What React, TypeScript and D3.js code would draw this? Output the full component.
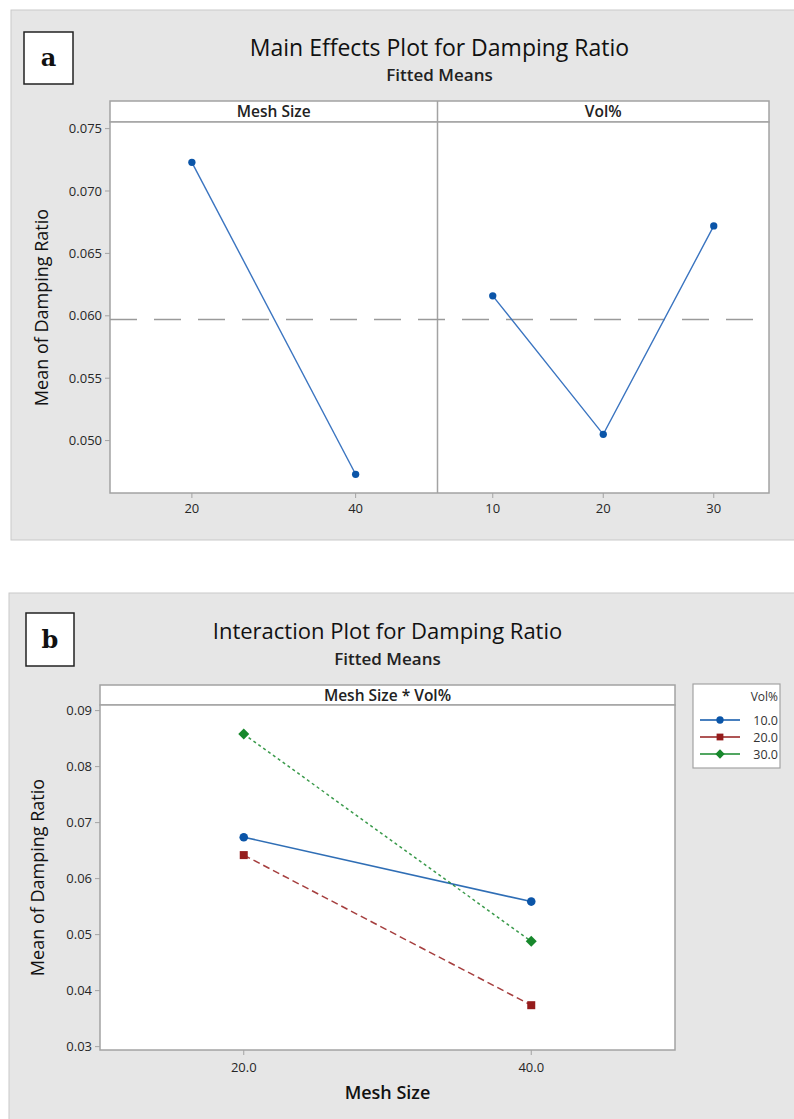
import * as d3 from "d3"

// main effects (panel a)
const meshLevels = [20, 40]
const meshMeans = [0.0723, 0.0473]
const volLevels = [10, 20, 30]
const volMeans = [0.0616, 0.0505, 0.0672]
const overallMean = 0.0597
const yTicksA = [0.05, 0.055, 0.06, 0.065, 0.07, 0.075]

// interaction (panel b)
const meshLabelsB = ["20.0", "40.0"]
const volSeries = ["10.0", "20.0", "30.0"]
const vol10 = [0.0674, 0.0559]
const vol20 = [0.0642, 0.0374]
const vol30 = [0.0858, 0.0488]
const yTicksB = [0.03, 0.04, 0.05, 0.06, 0.07, 0.08, 0.09]

const FONT = "'Open Sans', 'Noto Sans', sans-serif"
const BLUE = "#0b55a8"
const BLUE_LINE = "#3a74c0"
const RED = "#951c1c"
const GREEN = "#17882c"
const FRAME = "#a3a3a3"
const BG = "#e6e6e6"
const TICK_FS = 13
const TICK_COL = "#262626"

function LabelBox({ x, y, w, h, text }: { x: number; y: number; w: number; h: number; text: string }) {
  return (
    <g>
      <rect x={x} y={y} width={w} height={h} fill="#fff" stroke="#222" strokeWidth={1.5} />
      <text x={x + w / 2} y={y + h / 2 + 8} textAnchor="middle" fontFamily="'DejaVu Serif', serif" fontWeight="bold" fontSize={24} fill="#111">
        {text}
      </text>
    </g>
  )
}

function Marker({ kind, x, y, color, s = 1 }: { kind: string; x: number; y: number; color: string; s?: number }) {
  if (kind === "square") return <rect x={x - 4 * s} y={y - 4 * s} width={8 * s} height={8 * s} fill={color} />
  if (kind === "diamond")
    return <path d={`M${x},${y - 5.5 * s}L${x + 5.5 * s},${y}L${x},${y + 5.5 * s}L${x - 5.5 * s},${y}Z`} fill={color} />
  return <circle cx={x} cy={y} r={4.3 * s} fill={color} />
}

function MainEffects() {
  const top = 122
  const bottom = 493
  const stripTop = 101
  const left = 110
  const mid = 437.5
  const right = 769

  const y = d3.scaleLinear().domain([0.0458, 0.07553]).range([bottom, top])
  const xMesh = d3.scalePoint<number>().domain(meshLevels).range([left, mid]).padding(0.5)
  const xVol = d3.scalePoint<number>().domain(volLevels).range([mid, right]).padding(0.5)

  const lineMesh = d3
    .line<number>()
    .x((_, i) => xMesh(meshLevels[i]) as number)
    .y((d) => y(d))
  const lineVol = d3
    .line<number>()
    .x((_, i) => xVol(volLevels[i]) as number)
    .y((d) => y(d))

  const cx = (left + right) / 2
  return (
    <g>
      <rect x={11} y={10} width={800} height={530} fill={BG} stroke="#c9c9c9" />
      <LabelBox x={24} y={32} w={49} h={52} text="a" />
      <text x={cx} y={56} textAnchor="middle" fontFamily={FONT} fontSize={23} fill="#111">
        Main Effects Plot for Damping Ratio
      </text>
      <text x={cx} y={81} textAnchor="middle" fontFamily={FONT} fontSize={17} fontWeight={600} fill="#222">
        Fitted Means
      </text>

      {/* strips */}
      <rect x={left} y={stripTop} width={right - left} height={top - stripTop} fill="#fff" stroke={FRAME} strokeWidth={1.5} />
      <text x={(left + mid) / 2} y={117} textAnchor="middle" fontFamily={FONT} fontSize={15.5} fontWeight={600} fill="#222">
        Mesh Size
      </text>
      <text x={(mid + right) / 2} y={117} textAnchor="middle" fontFamily={FONT} fontSize={15.5} fontWeight={600} fill="#222">
        Vol%
      </text>

      {/* plot area */}
      <rect x={left} y={top} width={right - left} height={bottom - top} fill="#fff" stroke={FRAME} strokeWidth={1.5} />
      <line x1={mid} x2={mid} y1={stripTop} y2={bottom} stroke={FRAME} strokeWidth={1.5} />

      {/* y axis */}
      {yTicksA.map((t) => (
        <g key={t}>
          <line x1={left - 5} x2={left} y1={y(t)} y2={y(t)} stroke={FRAME} />
          <text x={left - 8} y={y(t) + 4.5} textAnchor="end" fontFamily={FONT} fontSize={TICK_FS} fill={TICK_COL}>
            {d3.format(".3f")(t)}
          </text>
        </g>
      ))}
      <text transform={`translate(48,${(top + bottom) / 2}) rotate(-90)`} textAnchor="middle" fontFamily={FONT} fontSize={18} fill="#111">
        Mean of Damping Ratio
      </text>

      {/* x axes */}
      {meshLevels.map((m) => (
        <g key={"m" + m}>
          <line x1={xMesh(m)} x2={xMesh(m)} y1={bottom} y2={bottom + 5} stroke={FRAME} />
          <text x={xMesh(m)} y={bottom + 20} textAnchor="middle" fontFamily={FONT} fontSize={TICK_FS} fill={TICK_COL}>
            {m}
          </text>
        </g>
      ))}
      {volLevels.map((v) => (
        <g key={"v" + v}>
          <line x1={xVol(v)} x2={xVol(v)} y1={bottom} y2={bottom + 5} stroke={FRAME} />
          <text x={xVol(v)} y={bottom + 20} textAnchor="middle" fontFamily={FONT} fontSize={TICK_FS} fill={TICK_COL}>
            {v}
          </text>
        </g>
      ))}

      {/* mean reference line */}
      <line x1={left} x2={right} y1={y(overallMean)} y2={y(overallMean)} stroke="#9a9a9a" strokeWidth={1.5} strokeDasharray="27,17" />

      <path d={lineMesh(meshMeans) || ""} fill="none" stroke={BLUE_LINE} strokeWidth={1.4} />
      <path d={lineVol(volMeans) || ""} fill="none" stroke={BLUE_LINE} strokeWidth={1.4} />
      {meshMeans.map((d, i) => (
        <Marker key={"mm" + i} kind="circle" x={xMesh(meshLevels[i]) as number} y={y(d)} color={BLUE} s={0.85} />
      ))}
      {volMeans.map((d, i) => (
        <Marker key={"vm" + i} kind="circle" x={xVol(volLevels[i]) as number} y={y(d)} color={BLUE} s={0.85} />
      ))}
    </g>
  )
}

function Interaction() {
  const top = 705
  const bottom = 1050
  const stripTop = 685
  const left = 100
  const right = 675

  const y = d3.scaleLinear().domain([0.0294, 0.091]).range([bottom, top])
  const x = d3.scalePoint<string>().domain(meshLabelsB).range([left, right]).padding(0.5)
  const line = d3
    .line<number>()
    .x((_, i) => x(meshLabelsB[i]) as number)
    .y((d) => y(d))

  const series = [
    { name: volSeries[0], values: vol10, color: BLUE, dash: "none", kind: "circle" },
    { name: volSeries[1], values: vol20, color: RED, dash: "7,4", kind: "square" },
    { name: volSeries[2], values: vol30, color: GREEN, dash: "3,3", kind: "diamond" },
  ]

  const cx = (left + right) / 2
  return (
    <g>
      <rect x={9} y={593} width={800} height={540} fill={BG} stroke="#c9c9c9" />
      <LabelBox x={26} y={613} w={48} h={53} text="b" />
      <text x={cx} y={639} textAnchor="middle" fontFamily={FONT} fontSize={22} fill="#111">
        Interaction Plot for Damping Ratio
      </text>
      <text x={cx} y={665} textAnchor="middle" fontFamily={FONT} fontSize={17} fontWeight={600} fill="#222">
        Fitted Means
      </text>

      <rect x={left} y={stripTop} width={right - left} height={top - stripTop} fill="#fff" stroke={FRAME} strokeWidth={1.5} />
      <text x={cx} y={701} textAnchor="middle" fontFamily={FONT} fontSize={15.5} fontWeight={600} fill="#222">
        Mesh Size * Vol%
      </text>
      <rect x={left} y={top} width={right - left} height={bottom - top} fill="#fff" stroke={FRAME} strokeWidth={1.5} />

      {yTicksB.map((t) => (
        <g key={t}>
          <line x1={left - 5} x2={left} y1={y(t)} y2={y(t)} stroke={FRAME} />
          <text x={left - 8} y={y(t) + 4.5} textAnchor="end" fontFamily={FONT} fontSize={TICK_FS} fill={TICK_COL}>
            {d3.format(".2f")(t)}
          </text>
        </g>
      ))}
      <text transform={`translate(44,${(top + bottom) / 2}) rotate(-90)`} textAnchor="middle" fontFamily={FONT} fontSize={18} fill="#111">
        Mean of Damping Ratio
      </text>

      {meshLabelsB.map((m) => (
        <g key={m}>
          <line x1={x(m)} x2={x(m)} y1={bottom} y2={bottom + 5} stroke={FRAME} />
          <text x={x(m)} y={bottom + 22} textAnchor="middle" fontFamily={FONT} fontSize={TICK_FS} fill={TICK_COL}>
            {m}
          </text>
        </g>
      ))}
      <text x={cx} y={1099} textAnchor="middle" fontFamily={FONT} fontSize={18} fontWeight={600} fill="#111">
        Mesh Size
      </text>

      {series.map((s) => (
        <g key={s.name}>
          <path d={line(s.values) || ""} fill="none" stroke={s.color} strokeWidth={s.dash === "none" ? 1.6 : 1.5} strokeDasharray={s.dash} opacity={0.85} />
          {s.values.map((v, i) => (
            <Marker key={i} kind={s.kind} x={x(meshLabelsB[i]) as number} y={y(v)} color={s.color} />
          ))}
        </g>
      ))}

      {/* legend */}
      <rect x={693} y={684} width={87} height={84} fill="#fff" stroke={FRAME} strokeWidth={1.2} />
      <text x={778} y={701} textAnchor="end" fontFamily={FONT} fontSize={12} fill="#333">
        Vol%
      </text>
      {series.map((s, i) => {
        const ly = 720 + i * 17
        return (
          <g key={"lg" + s.name}>
            <line x1={700} x2={740} y1={ly} y2={ly} stroke={s.color} strokeWidth={1.5} />
            <Marker kind={s.kind} x={720} y={ly} color={s.color} s={0.85} />
            <text x={778} y={ly + 4.5} textAnchor="end" fontFamily={FONT} fontSize={12.5} fill="#333">
              {s.name}
            </text>
          </g>
        )
      })}
    </g>
  )
}

export default function App() {
  return (
    <div style={{ position: "absolute", left: 0, top: 0 }}>
      <svg width={794} height={1119} viewBox="0 0 794 1119" style={{ display: "block", background: "#fff" }}>
        <MainEffects />
        <Interaction />
      </svg>
    </div>
  )
}
